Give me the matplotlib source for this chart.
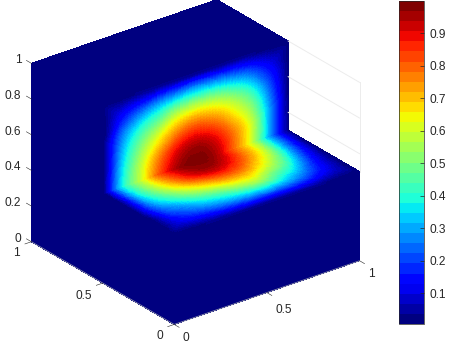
import numpy as np
import matplotlib
matplotlib.use("Agg")
import matplotlib.pyplot as plt
import matplotlib.tri as mtri
from matplotlib.cm import ScalarMappable
from matplotlib.colors import Normalize
from mpl_toolkits.mplot3d import proj3d

plt.rcParams['font.family'] = ['Liberation Sans', 'DejaVu Sans']

# solution samples on the two inner faces of the stepped block
x_nodes = [0.0, 0.1, 0.2, 0.3, 0.4, 0.5, 0.6, 0.7, 0.8, 0.9, 1.0]
t_nodes = [0.0, 0.2, 0.4, 0.6, 0.8, 1.0]

# vertical wall y=0.5, t runs from the step (z=0.5) up to z=1
wall_vals = [
    [0.00, 0.00, 0.00, 0.00, 0.00, 0.00],
    [0.36, 0.34, 0.30, 0.24, 0.13, 0.01],
    [0.59, 0.57, 0.50, 0.39, 0.22, 0.02],
    [0.82, 0.77, 0.65, 0.49, 0.29, 0.02],
    [0.965, 0.91, 0.78, 0.60, 0.33, 0.02],
    [0.995, 0.96, 0.83, 0.63, 0.35, 0.02],
    [0.965, 0.91, 0.78, 0.60, 0.33, 0.02],
    [0.81, 0.78, 0.67, 0.52, 0.29, 0.02],
    [0.60, 0.60, 0.52, 0.40, 0.22, 0.02],
    [0.28, 0.28, 0.26, 0.20, 0.12, 0.01],
    [0.00, 0.00, 0.00, 0.00, 0.00, 0.00],
]
# floor z=0.5, t runs from the step (y=0.5) out to y=0
floor_vals = [
    [0.00, 0.00, 0.00, 0.00, 0.00, 0.00],
    [0.36, 0.34, 0.28, 0.20, 0.12, 0.01],
    [0.59, 0.55, 0.44, 0.30, 0.18, 0.02],
    [0.82, 0.74, 0.58, 0.40, 0.23, 0.02],
    [0.965, 0.89, 0.69, 0.47, 0.27, 0.02],
    [0.995, 0.95, 0.77, 0.55, 0.30, 0.02],
    [0.965, 0.90, 0.76, 0.58, 0.31, 0.02],
    [0.81, 0.77, 0.65, 0.47, 0.28, 0.02],
    [0.60, 0.58, 0.49, 0.36, 0.21, 0.02],
    [0.28, 0.27, 0.23, 0.16, 0.11, 0.01],
    [0.00, 0.00, 0.00, 0.00, 0.00, 0.00],
]
z_ticks = [0, 0.2, 0.4, 0.6, 0.8, 1]
z_labels = ['0', '0.2', '0.4', '0.6', '0.8', '1']
xy_ticks = [0, 0.5, 1]
xy_labels = ['0', '0.5', '1']
cbar_ticks = [0.1, 0.2, 0.3, 0.4, 0.5, 0.6, 0.7, 0.8, 0.9]
cbar_labels = ['0.1', '0.2', '0.3', '0.4', '0.5', '0.6', '0.7', '0.8', '0.9']

face_cmap = plt.get_cmap('jet', 64)
bar_cmap = plt.get_cmap('jet', 32)
norm = Normalize(0.005, 1.0)
text_col = '#262626'
axis_col = '#8d90a8'
grid_col = '#ececec'
font_size = 8.6


def smooth_face(vals, nx=187, nt=91):
    # shading mesh for one face, like interp shading over the sampled nodes
    gx, gt = np.meshgrid(x_nodes, t_nodes, indexing='ij')
    tri = mtri.Triangulation(gx.ravel(), gt.ravel())
    interp = mtri.CubicTriInterpolator(tri, np.array(vals).ravel(), kind='geom')
    fx, ft = np.meshgrid(np.linspace(0, 1, nx), np.linspace(0, 1, nt), indexing='ij')
    fv = np.ma.filled(interp(fx, ft), 0.0)
    return fx, ft, np.clip(fv, 0, 1)


def cell_colors(v):
    cells = (v[:-1, :-1] + v[1:, :-1] + v[:-1, 1:] + v[1:, 1:]) / 4
    return face_cmap(norm(cells))


def flat_face(ax, X, Y, Z):
    ax.plot_surface(np.array(X, float), np.array(Y, float), np.array(Z, float), color=face_cmap(0),
                    shade=False, antialiased=False, linewidth=0, rstride=1, cstride=1)


def tick_label(ax, x, y, z, s, ha='center'):
    # plain 2d text placed at the projected position of a 3d point
    px, py, _ = proj3d.proj_transform(x, y, z, ax.get_proj())
    ax.text2D(px, py, s, transform=ax.transData, ha=ha, va='center', fontsize=font_size, color=text_col)


fig = plt.figure(figsize=(4.51, 3.5), dpi=100)
ax = fig.add_axes([2.9 / 451, -4.6 / 350, 375 / 451, 375 / 350], projection='3d', computed_zorder=False)
ax.set_proj_type('ortho')
ax.view_init(elev=26.5, azim=-127.6)
ax.set_box_aspect((1, 1, 0.852))
ax.set_xlim(0, 1)
ax.set_ylim(0, 1)
ax.set_zlim(0, 1)
ax.set_xticks([])
ax.set_yticks([])
ax.set_zticks([])
ax.set_axis_off()
ax.patch.set_alpha(0)

# back wall grid, only seen through the notch
for zg in [0.6, 0.8, 1.0]:
    ax.plot([1, 1], [0.5, 0], [zg, zg], color=grid_col, lw=0.7)
ax.plot([1, 1], [0, 0], [0.5, 1], color=grid_col, lw=0.7)

# outer faces, all at zero
flat_face(ax, [[0, 0], [0, 0]], [[0, 0.5], [0, 0.5]], [[0, 0], [0.5, 0.5]])
flat_face(ax, [[0, 0], [0, 0]], [[0.5, 1], [0.5, 1]], [[0, 0], [1, 1]])
flat_face(ax, [[0, 1], [0, 1]], [[0, 0], [0, 0]], [[0, 0], [0.5, 0.5]])
flat_face(ax, [[0, 1], [0, 1]], [[0.5, 0.5], [1, 1]], [[1, 1], [1, 1]])

# the step itself
fx, ft, fv = smooth_face(wall_vals)
ax.plot_surface(fx, np.full_like(fx, 0.5), 0.5 + 0.5 * ft, facecolors=cell_colors(fv), shade=False,
                antialiased=False, linewidth=0, rstride=1, cstride=1)
fx, ft, fv = smooth_face(floor_vals)
ax.plot_surface(fx, 0.5 - 0.5 * ft, np.full_like(fx, 0.5), facecolors=cell_colors(fv), shade=False,
                antialiased=False, linewidth=0, rstride=1, cstride=1)

# axis lines and ticks
ax.plot([0, 1], [0, 0], [0, 0], color=axis_col, lw=0.6)
ax.plot([0, 0], [0, 1], [0, 0], color=axis_col, lw=0.6)
for v in xy_ticks:
    ax.plot([v, v], [0, -0.035], [0, 0], color=text_col, lw=0.4)
    ax.plot([0, -0.035], [v, v], [0, 0], color=text_col, lw=0.4)
for v in z_ticks:
    ax.plot([0, 0], [1, 1.035], [v, v], color=text_col, lw=0.4)

# tick labels
for v, s in zip(z_ticks, z_labels):
    tick_label(ax, 0, 1.07, v - 0.015, s, ha='right')
for v, s in zip(xy_ticks, xy_labels):
    far = 0.12 if s == '0.5' else 0.08
    tick_label(ax, v, -far, -0.04, s)
    far = 0.105 if s == '0.5' else 0.08
    tick_label(ax, -far, v, -0.035, s)

# colorbar
cax = fig.add_axes([399 / 451, 1 - 324 / 350, 25 / 451, 323 / 350])
cb = fig.colorbar(ScalarMappable(norm=norm, cmap=bar_cmap), cax=cax, ticks=cbar_ticks)
cb.ax.set_yticklabels(cbar_labels)
cb.ax.tick_params(direction='in', length=3, width=0.5, labelsize=font_size, colors=text_col, pad=4)
cb.outline.set_linewidth(0.5)
cb.outline.set_edgecolor(text_col)

fig.savefig('out.png', dpi=100)
